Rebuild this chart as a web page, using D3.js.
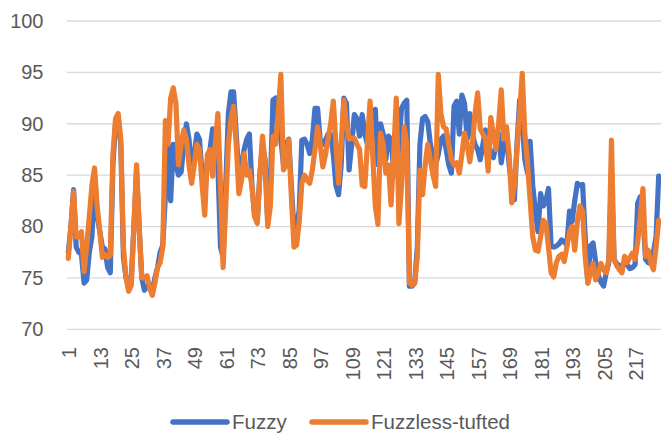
<!DOCTYPE html>
<html>
<head>
<meta charset="utf-8">
<script src="https://cdn.jsdelivr.net/npm/d3@7"></script>
<style>
  body { margin: 0; background: #fff; }
  text { font-family: "Liberation Sans", Arial, sans-serif; fill: #595959; }
</style>
</head>
<body>
<svg id="chart" width="661" height="434"></svg>
<script>
let seriesNames = ['Fuzzy', 'Fuzzless-tufted'];
let seriesColors = ['#4472C4', '#ED7D31'];
let yTicks = [70, 75, 80, 85, 90, 95, 100];
let xTickLabels = [1, 13, 25, 37, 49, 61, 73, 85, 97, 109, 121, 133, 145, 157, 169, 181, 193, 205, 217];

let fuzzy = [
    77.5, 80, 83.6, 78, 77.5, 77.3, 74.5, 74.8, 77.5, 79,
    85, 81, 79.5, 78, 77.8, 76, 75.5, 86, 90, 90.5,
    88, 77, 75, 74.5, 75, 80, 85.5, 80, 75, 73.8,
    74.2, 74, 73.8, 75, 76, 77.5, 78.2, 83, 88, 82.5,
    88, 86, 85, 85.3, 88, 90, 88.5, 85.5, 87, 89,
    88.5, 85, 83, 86.5, 87.5, 89.5, 88, 86, 78, 77,
    84, 91, 93.1, 93.1, 89, 85, 86, 87.5, 88.5, 89,
    84, 81, 80.5, 85, 88, 86.5, 80.5, 84, 92.3, 92.5,
    90, 88.5, 86, 88, 88.5, 84, 79.7, 80, 81.6, 88.4,
    88.5, 88, 87.1, 88.5, 91.5, 91.5, 88.4, 88, 88.4, 89,
    89, 87, 84, 83.1, 86, 92.5, 92, 85.5, 88, 90.9,
    90.5, 88.8, 90.9, 89, 88, 88.8, 90, 91.4, 86, 90,
    89, 86.5, 88.8, 88.5, 85.5, 85, 88, 91.5, 92, 92.3,
    74.2, 74.2, 74.5, 78, 88, 90.5, 90.7, 90.2, 88, 86.8,
    86, 87, 88.5, 88.8, 87.5, 86, 85.2, 91.7, 92.2, 89,
    92.8, 92, 88.5, 91, 89, 88, 87.5, 86.5, 88, 89.4,
    88, 87, 86.7, 88, 89, 86.2, 88, 89, 86, 84,
    82.6, 88, 92.3, 90, 86.5, 85.2, 88.3, 84, 81.5, 79.5,
    83.2, 82, 82.5, 83.7, 78.1, 78, 78.1, 78.3, 78.7, 78.5,
    78.2, 81.5, 80.5, 82.5, 84.2, 84, 84.1, 79, 74.5, 78.1,
    78.4, 76.5, 75.2, 74.6, 74.2, 75.5, 76.5, 85, 76.8, 76.4,
    76.2, 76, 76.5, 76.3, 75.9, 76, 76.3, 82.3, 82.9, 81,
    76.8, 76.5, 76.4, 77.5, 79, 84.9
];

let fuzzless = [
    76.9, 80, 83.4, 79, 79, 79.5, 75.6, 78, 81, 84,
    85.7, 82, 79.5, 77, 77.3, 77, 77.2, 87, 90.5, 91,
    88.5, 78, 75, 73.7, 74.3, 80, 86, 80, 75, 75,
    75.2, 74, 73.3, 74.5, 76, 76.5, 78, 90.3, 88, 92.5,
    93.5, 92, 86, 88, 89.4, 88.5, 86, 84.2, 86, 88,
    87.5, 84, 81.1, 87, 87.5, 84.9, 88, 91, 84, 76,
    82, 88, 90.5, 91.7, 88, 83.2, 84.5, 87.1, 85, 85.5,
    83.9, 81, 80.3, 85, 88.8, 86, 80, 82, 88.8, 88,
    91, 94.8, 85.5, 86, 88.4, 83, 78, 78.2, 80.5, 84.2,
    85, 84.5, 84.2, 85.5, 87.5, 89.7, 88, 85.8, 87, 88.5,
    90, 92.2, 88, 84.2, 88, 92.3, 90, 88.5, 88.6, 88.6,
    88, 87.5, 84, 83.9, 88, 92.2, 87, 82, 80.2, 89.1,
    88, 85.2, 86, 82.1, 87, 92.5, 80.3, 84, 89.7, 88,
    74.5, 74.3, 74.5, 77, 85.5, 83.1, 86, 88, 86.5, 85,
    83.9, 94.8, 91, 89.7, 89.5, 88, 86.5, 86, 86.2, 85.2,
    87, 89.1, 88, 86.3, 88, 91, 93, 89.5, 89, 88.5,
    85.4, 90.6, 89, 87.5, 90, 93.3, 88.5, 89.7, 87, 82.3,
    84, 87.5, 91, 94.9, 89, 86.2, 82.6, 79, 77.7, 77.6,
    79, 80.6, 80.3, 78, 75.5, 75.1, 76.5, 77.1, 77.3, 76.6,
    78, 79.5, 80, 77.7, 80.5, 82, 81.5, 77, 74.5, 75.5,
    76.4, 74.8, 75.5, 76.4, 75.8, 75.5, 76.8, 88.4, 76.8, 76.2,
    75.8, 75.5, 77.1, 76.5, 77, 77.4, 76.8, 78.5, 81, 83.7,
    77.1, 77.7, 76.5, 75.8, 78, 80.6
];

let categories = d3.range(1, fuzzy.length + 1);
let series = [fuzzy, fuzzless];

let plot = {left: 67, right: 660, top: 21, bottom: 329.3};

let svg = d3.select('#chart');

let x = d3.scaleBand().domain(categories).range([plot.left, plot.right]);
let y = d3.scaleLinear().domain([70, 100]).range([plot.bottom, plot.top]);

// gridlines
svg.append('g').selectAll('line').data(yTicks).enter().append('line')
    .attr('x1', plot.left).attr('x2', 661)
    .attr('y1', function (d) { return y(d); })
    .attr('y2', function (d) { return y(d); })
    .attr('stroke', '#d9d9d9')
    .attr('stroke-width', 1.3);

// y axis labels
let yAxis = d3.axisLeft(y).tickValues(yTicks).tickSize(0).tickPadding(0);
let yG = svg.append('g').attr('transform', 'translate(43.5,0)').call(yAxis);
yG.select('.domain').remove();
yG.selectAll('text').style('font-size', '20px').attr('fill', '#595959').style('font-family', null);

// x axis labels
let xAxis = d3.axisBottom(x).tickValues(xTickLabels).tickSize(0);
let xG = svg.append('g').attr('transform', 'translate(0,347)').call(xAxis);
xG.select('.domain').remove();
xG.selectAll('text')
    .attr('y', 0).attr('x', 0)
    .attr('dy', '0.4em')
    .attr('transform', 'rotate(-90)')
    .style('text-anchor', 'end')
    .style('font-size', '20px')
    .style('font-family', null)
    .attr('fill', '#595959');

// lines
let line = d3.line()
    .x(function (d, i) { return x(categories[i]) + x.bandwidth() / 2; })
    .y(function (d) { return y(d); });

svg.append('g').selectAll('path').data(series).enter().append('path')
    .attr('d', line)
    .attr('fill', 'none')
    .attr('stroke', function (d, i) { return seriesColors[i]; })
    .attr('stroke-width', 5.2)
    .attr('stroke-linejoin', 'round')
    .attr('stroke-linecap', 'round');

// legend
let legendX = [173, 312];
let legend = svg.append('g').selectAll('g').data(seriesNames).enter().append('g')
    .attr('transform', function (d, i) { return 'translate(' + legendX[i] + ',422)'; });
legend.append('line')
    .attr('x1', 0).attr('x2', 54)
    .attr('stroke', function (d, i) { return seriesColors[i]; })
    .attr('stroke-width', 5.5)
    .attr('stroke-linecap', 'round');
legend.append('text')
    .attr('x', 59).attr('dy', '0.35em')
    .style('font-size', '20.5px')
    .text(function (d) { return d; });
</script>
</body>
</html>
